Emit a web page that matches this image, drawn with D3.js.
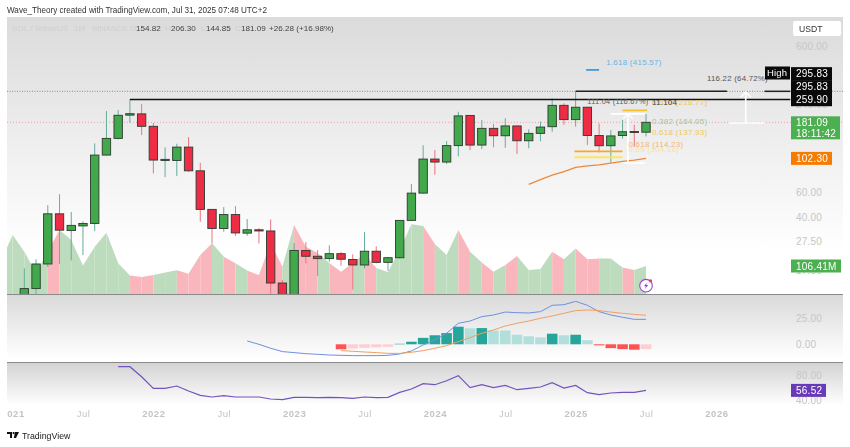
<!DOCTYPE html>
<html>
<head>
<meta charset="utf-8">
<script src="https://cdn.jsdelivr.net/npm/d3@7"></script>
<style>
html, body { margin: 0; background: #fff; }
svg { display: block; filter: blur(0.4px); }
text { font-family: "Liberation Sans", Arial, sans-serif; }
</style>
</head>
<body>
<svg id="chart" width="850" height="447"></svg>
<script>
// monthly candles, Jan 2021 to Jul 2025 (one row per year)
const opens = [
	1.5, 11.5, 13, 19.2, 42.5, 32.6, 35.1, 36.5, 107.8, 140.4, 203, 207,
	170, 99, 99, 122.3, 84, 45.6, 33.7, 42, 31.3, 33, 32.4, 14.2,
	11.4, 23.8, 21.7, 20.9, 22.6, 20.6, 18.9, 23.5, 19.7, 21.2, 38.3, 59,
	101.2, 96.5, 125.2, 202, 126.3, 164.6, 146.4, 171, 135.2, 152, 169, 237,
	189, 230, 147, 125, 147, 156.7, 154.82];
const highs = [
	3.9, 17.9, 20.7, 48.8, 58.1, 43.7, 37.7, 129.7, 216.5, 220, 259.9, 242,
	179, 121.8, 128.9, 143.4, 95.4, 45.8, 47.3, 48, 39.1, 33.9, 38.9, 14.9,
	26.7, 27.1, 23.9, 25.8, 23.3, 22.4, 31.8, 25.4, 21.5, 38.5, 68.1, 126,
	116.7, 134.5, 214, 203, 187.8, 176.3, 193, 171, 162, 183, 264, 245,
	295.83, 231, 178, 160, 188, 174, 206.3];
const lows = [
	1.2, 10.5, 11.95, 18.3, 19.2, 20.3, 22.1, 32.3, 106.9, 138, 180, 148,
	80.6, 76, 77.3, 82.7, 37.5, 26.6, 32, 30, 30, 26.6, 11, 9.8,
	9.5, 19.4, 15.9, 19.9, 18.7, 12.8, 17.9, 19.4, 17.2, 20.9, 37.9, 58.7,
	78.9, 93.5, 105.7, 116.7, 118.5, 122, 121, 109.5, 120, 134, 156, 174,
	169, 126.5, 112.6, 95.5, 140, 123, 144.85];
const closes = [
	3.6, 13, 19.2, 42.5, 32.8, 35.4, 36.5, 107.8, 140.4, 202.4, 207.5, 170,
	99.6, 100.7, 122.3, 84, 45.6, 33.7, 42, 31.4, 33, 32.4, 14.2, 11.4,
	23.8, 21.7, 20.9, 22.6, 20.7, 18.9, 23.5, 19.7, 21.2, 38.3, 59, 101.2,
	96.5, 125.2, 200.5, 126.3, 164.6, 146.4, 171, 135.2, 152, 168, 237, 189,
	230, 147, 125, 146, 156, 154.82, 181.09];
const volumes = [
	224, 161, 79, 161, 243, 205, 108, 180, 233, 117, 70, 65,
	72, 82, 90, 77, 148, 193, 142, 117, 89, 72, 194, 104,
	262, 180, 156, 118, 85, 118, 152, 99, 84, 167, 265, 258,
	190, 148, 243, 161, 120, 85, 110, 144, 91, 95, 161, 132,
	173, 132, 135, 135, 101, 91, 106.41];
const volumeDec2020 = 125;

// indicators, each with the month index of its first value
const maStart = 44;
const maValues = [67.8, 73, 78.5, 82.8, 88.6, 90.8, 92.3, 95, 97.6, 99.6, 102.3];
const macdStart = 20;
const macdLine = [
	3.2, 0, -3.8, -7,
	-8, -9, -9.6, -10.3, -10.6, -10.9, -10.9, -10.9, -10.6, -9.3, -6.4, -0.6,
	4.2, 10.6, 20.2, 22.4, 26.6, 28.2, 31, 30.4, 30.1, 31.4, 37.5, 38.1,
	41.3, 37.5, 31.4, 28.2, 26, 24, 24];
const signalStart = 28;
const signalLine = [
	-6.1, -6.7, -7.4, -8, -8.7, -8.7, -7.7, -6.1,
	-3.8, -1.3, 2.6, 6.4, 10.6, 13.8, 17.6, 20.2, 22.4, 25, 27.2, 29.8,
	32.4, 33, 32.4, 31, 29.8, 28.8, 27.9];
const histogram = [
	-4.8, -4, -3.4, -2.9, -2.4, 0.5, 2.5, 6.2,
	8.7, 10.8, 16.9, 15.4, 15.6, 13.3, 13.2, 9.2, 7.7, 6.7, 10.2, 8.7,
	9.2, 4, -1, -3.7, -4.6, -5.2, -4.6];
const rsiStart = 9;
const rsiValues = [
	94.4, 94.4, 78.4,
	59.7, 59.7, 63.5, 55.5, 48.5, 45.9, 48, 45.9, 45.9, 45.9, 42.7, 41.6,
	45.3, 45.3, 44.8, 45.3, 44.8, 43.7, 45.9, 44.8, 45.3, 53.3, 58.7, 67.2,
	65.6, 72, 80, 60.8, 65.6, 60.8, 64.5, 57.6, 59.7, 61.9, 68.8, 60.3,
	64.5, 52.8, 49.6, 52.3, 53.3, 53.3, 56.52];

// axis labels
const timeTicks = [0, 6, 12, 18, 24, 30, 36, 42, 48, 54, 60];
const timeLabels = ["2021", "Jul", "2022", "Jul", "2023", "Jul", "2024", "Jul", "2025", "Jul", "2026"];
const priceTicks = [600, 240, 60, 40, 27.5, 17.5];
const macdTicks = [25, 0];
const rsiTicks = [80, 40];

// drawn levels: [price, first month, last month, colour]
const fibLines = [
	[415.57, 48.9, 50, "#3d9be0"],
	[218.77, 52, 54.1, "#fbc02d"],
	[114.23, 47.9, 52, "#f9a825"],
	[104.16, 47.9, 52, "#ffe45c"]
];
// [text, month, price, colour, font size]
const fibLabels = [
	["1.618 (415.57)", 50.6, 471, "#6db3e6", 8],
	["0.618 (218.77)", 54.5, 251, "#eec65a", 8],
	["0.382 (164.05)", 54.5, 183, "#a3c6a3", 8],
	["0.618 (137.93)", 54.5, 154, "#f0c957", 8],
	["0.618 (114.23)", 52.5, 128, "#f2b678", 8],
	["0.65 (104.16)", 52.5, 117.5, "#f6e4a0", 8],
	["111.04 (116.67%)", 49, 251, "#5c5c5c", 7.4],
	["11.104", 54.5, 251, "#444", 8],
	["116.22 (64.72%)", 59.2, 365, "#555", 7.8]
];
const highPrice = 295.83;
const resistPrice = 259.9;
const lastPrice = 181.09;

const left = 7, right = 843, axisX = 791;
const mainTop = 17, mainBottom = 294, macdBottom = 362, rsiBottom = 405;

const x = d3.scaleLinear().domain([0, 60]).range([12.6, 716.4]);
const y = d3.scaleLog().domain([600, 27.5]).range([46.7, 241.3]);
const yVol = d3.scaleLinear().domain([0, 106.41]).range([294, 266]);
const yMacd = d3.scaleLinear().domain([0, 25]).range([344.3, 318.3]);
const yRsi = d3.scaleLinear().domain([40, 80]).range([400.7, 375.7]);

const svg = d3.select("#chart");
const defs = svg.append("defs");

// pane backgrounds
function addGradient(id, top, end) {
	const g = defs.append("linearGradient").attr("id", id).attr("x1", 0).attr("x2", 0).attr("y1", 0).attr("y2", 1);
	g.append("stop").attr("offset", 0).attr("stop-color", top);
	g.append("stop").attr("offset", end).attr("stop-color", "#fff");
}
addGradient("bgMain", "#dbdbdb", 0.85);
addGradient("bgMacd", "#d9d9d9", 0.95);
addGradient("bgRsi", "#d2d2d2", 1);
[["bgMain", mainTop, mainBottom], ["bgMacd", mainBottom, macdBottom], ["bgRsi", macdBottom, rsiBottom]].forEach(p => {
	svg.append("rect").attr("x", left).attr("y", p[1]).attr("width", right - left).attr("height", p[2] - p[1]).attr("fill", "url(#" + p[0] + ")");
});

defs.append("clipPath").attr("id", "clipMain").append("rect").attr("x", left).attr("y", mainTop).attr("width", right - left).attr("height", mainBottom - mainTop);
defs.append("clipPath").attr("id", "clipTime").append("rect").attr("x", left).attr("y", rsiBottom).attr("width", right - left).attr("height", 20);

const main = svg.append("g").attr("clip-path", "url(#clipMain)");

// dotted price lines
main.append("line").attr("x1", left).attr("x2", right).attr("y1", y(highPrice)).attr("y2", y(highPrice))
	.attr("stroke", "#888").attr("stroke-dasharray", "1 1.5");
main.append("line").attr("x1", left).attr("x2", right).attr("y1", y(lastPrice)).attr("y2", y(lastPrice))
	.attr("stroke", "#f0a0a8").attr("stroke-dasharray", "1 2");

// volume area, one strip per month coloured like its candle
const volPoints = [volumeDec2020].concat(volumes);
const volArea = d3.area().x(d => x(d.i)).y0(yVol(0)).y1(d => yVol(d.v));
volumes.forEach((v, i) => {
	main.append("path")
		.attr("d", volArea([{ i: i - 1, v: volPoints[i] }, { i: i, v: v }]))
		.attr("fill", closes[i] >= opens[i] ? "#bcdcbd" : "#f9b7bd");
});

// candles
opens.forEach((o, i) => {
	const up = closes[i] >= o;
	main.append("line").attr("x1", x(i)).attr("x2", x(i)).attr("y1", y(highs[i])).attr("y2", y(lows[i]))
		.attr("stroke", up ? "#62ad9c" : "#ec7482").attr("stroke-width", 1);
	main.append("rect").attr("x", x(i) - 4.2).attr("width", 8.4)
		.attr("y", y(Math.max(o, closes[i]))).attr("height", Math.max(1, Math.abs(y(o) - y(closes[i]))))
		.attr("fill", up ? "#41a84b" : "#ef2c45").attr("stroke", "#2d3a30").attr("stroke-width", 0.9);
});

// moving average
const indicatorLine = (start, scale) => d3.line().x((d, i) => x(start + i)).y(d => scale(d));
main.append("path").attr("d", indicatorLine(maStart, y)(maValues))
	.attr("fill", "none").attr("stroke", "#f0883a").attr("stroke-width", 1.3);

// resistance lines
main.append("line").attr("x1", x(10)).attr("x2", x(66.3)).attr("y1", y(resistPrice)).attr("y2", y(resistPrice))
	.attr("stroke", "#111").attr("stroke-width", 1.5);
main.append("line").attr("x1", x(48)).attr("x2", x(60.9)).attr("y1", y(highPrice)).attr("y2", y(highPrice))
	.attr("stroke", "#222").attr("stroke-width", 1.5);
main.append("line").attr("x1", x(64.1)).attr("x2", x(66.3)).attr("y1", y(highPrice)).attr("y2", y(highPrice))
	.attr("stroke", "#222").attr("stroke-width", 1.5);

// fibonacci levels
fibLines.forEach(f => {
	main.append("line").attr("x1", x(f[1])).attr("x2", x(f[2])).attr("y1", y(f[0])).attr("y2", y(f[0]))
		.attr("stroke", f[3]).attr("stroke-width", 1.8);
});

// white measuring arrows
function arrow(month, from, to, startMonth, endMonth) {
	main.append("line").attr("x1", x(month)).attr("x2", x(month)).attr("y1", y(from)).attr("y2", y(to))
		.attr("stroke", "#fff").attr("stroke-width", 1.6);
	main.append("path").attr("d", d3.line()([[x(month) - 5, y(to) + 5], [x(month), y(to)], [x(month) + 5, y(to) + 5]]))
		.attr("fill", "none").attr("stroke", "#fff").attr("stroke-width", 1.4);
	main.append("line").attr("x1", x(startMonth)).attr("x2", x(endMonth)).attr("y1", y(from)).attr("y2", y(from))
		.attr("stroke", "#fff").attr("stroke-width", 1.6);
}
arrow(62.5, lastPrice * 0.99, highPrice * 0.99, 61.1, 64.1);
arrow(52.46, 95, 207, 52.1, 53.9);
main.append("line").attr("x1", x(51)).attr("x2", x(53.9)).attr("y1", y(207)).attr("y2", y(207))
	.attr("stroke", "#fff").attr("stroke-width", 1.6);

// fibonacci and measure labels
fibLabels.forEach(l => {
	main.append("text").attr("x", x(l[1])).attr("y", y(l[2])).attr("dy", "0.35em")
		.attr("font-size", l[4]).attr("fill", l[3]).attr("letter-spacing", 0.25).text(l[0]);
});

// macd pane
const macdPane = svg.append("g");
histogram.forEach((h, i) => {
	const prev = i > 0 ? histogram[i - 1] : 0;
	const colour = h >= 0 ? (h > prev ? "#26a69a" : "#b2dfdb") : (h < prev ? "#ff5252" : "#ffcdd2");
	macdPane.append("rect").attr("x", x(signalStart + i) - 5.3).attr("width", 10.6)
		.attr("y", Math.min(yMacd(h), yMacd(0))).attr("height", Math.abs(yMacd(h) - yMacd(0)))
		.attr("fill", colour);
});
macdPane.append("path").attr("d", indicatorLine(macdStart, yMacd)(macdLine))
	.attr("fill", "none").attr("stroke", "#6f8fe0").attr("stroke-width", 1);
macdPane.append("path").attr("d", indicatorLine(signalStart, yMacd)(signalLine))
	.attr("fill", "none").attr("stroke", "#f0a066").attr("stroke-width", 1);

// rsi pane
svg.append("path").attr("d", indicatorLine(rsiStart, yRsi)(rsiValues))
	.attr("fill", "none").attr("stroke", "#7353bd").attr("stroke-width", 1.2);

// pane separators
[mainBottom, macdBottom].forEach(s => {
	svg.append("line").attr("x1", left).attr("x2", right).attr("y1", s + 0.5).attr("y2", s + 0.5).attr("stroke", "#8a8a8a");
});

// price axes
function priceAxis(scale, ticks) {
	const g = svg.append("g").attr("transform", "translate(" + (axisX + 5) + ",0)")
		.call(d3.axisRight(scale).tickValues(ticks).tickSize(0).tickPadding(0).tickFormat(d3.format(".2f")));
	g.select(".domain").remove();
	g.selectAll("text").attr("font-size", 10).attr("font-family", "Liberation Sans").attr("fill", "#c6c6c6").attr("letter-spacing", 0.2);
}
priceAxis(y, priceTicks);
priceAxis(yMacd, macdTicks);
priceAxis(yRsi, rsiTicks);

// time axis
const timeAxis = svg.append("g").attr("clip-path", "url(#clipTime)").append("g").attr("transform", "translate(0,410)")
	.call(d3.axisBottom(x).tickValues(timeTicks).tickSize(0).tickPadding(0).tickFormat((d, i) => timeLabels[i]));
timeAxis.select(".domain").remove();
timeAxis.selectAll("text").attr("font-size", 9.5).attr("font-family", "Liberation Sans").attr("fill", "#c4c4c4")
	.attr("font-weight", (d, i) => timeLabels[i] === "Jul" ? "normal" : "bold").attr("letter-spacing", 0.5);

// price tags
function tag(cy, h, tx, w, colour, lines) {
	svg.append("rect").attr("x", tx).attr("y", cy - h / 2).attr("width", w).attr("height", h).attr("fill", colour);
	lines.forEach((t, i) => {
		svg.append("text").attr("x", tx + 5).attr("y", cy + (i - (lines.length - 1) / 2) * 11.5).attr("dy", "0.35em")
			.attr("font-size", 10).attr("fill", "#fff").attr("letter-spacing", 0.25).text(t);
	});
}
tag(y(highPrice) - 17.5, 13.4, axisX, 41, "#0a0a0a", ["295.83"]);
tag(y(highPrice) - 4.5, 13.4, axisX, 41, "#0a0a0a", ["295.83"]);
tag(y(resistPrice), 13.4, axisX, 41, "#0a0a0a", ["259.90"]);
tag(y(lastPrice) + 5.5, 23, axisX, 49, "#4caf50", ["181.09", "18:11:42"]);
tag(y(maValues[maValues.length - 1]), 13, axisX, 41, "#f57c00", ["102.30"]);
tag(yVol(106.41), 13, axisX, 50, "#4caf50", ["106.41M"]);
tag(yRsi(56.52), 13, axisX, 35, "#673ab7", ["56.52"]);

// High label
svg.append("rect").attr("x", 765).attr("y", 66.5).attr("width", 25).attr("height", 13).attr("fill", "#0a0a0a");
svg.append("text").attr("x", 767).attr("y", 73).attr("dy", "0.35em").attr("font-size", 9.5).attr("fill", "#fff").attr("letter-spacing", 0.2).text("High");

// currency box
svg.append("rect").attr("x", 793).attr("y", 21).attr("width", 48).attr("height", 15).attr("rx", 2).attr("fill", "#fff");
svg.append("text").attr("x", 799).attr("y", 28.5).attr("dy", "0.35em").attr("font-size", 8.6).attr("fill", "#333").text("USDT");

// header and legend
svg.append("text").attr("x", 7).attr("y", 10).attr("dy", "0.35em").attr("font-size", 8.15).attr("fill", "#333")
	.text("Wave_Theory created with TradingView.com, Jul 31, 2025 07:48 UTC+2");

const legend = [
	[12, "SOL / TetherUS", "#cfcfcf"], [74, "1M", "#cfcfcf"], [92, "BINANCE", "#cfcfcf"],
	[130, "O", "#cfcfcf"], [136, "154.82", "#444"], [165, "H", "#cfcfcf"], [171, "206.30", "#444"],
	[201, "L", "#cfcfcf"], [206, "144.85", "#444"], [235, "C", "#cfcfcf"], [241, "181.09", "#444"],
	[269, "+26.28 (+16.98%)", "#444"]
];
legend.forEach(l => {
	svg.append("text").attr("x", l[0]).attr("y", 28).attr("dy", "0.35em").attr("font-size", 8.1).attr("fill", l[2]).text(l[1]);
});

// alert icon on the volume pane
const icon = svg.append("g").attr("transform", "translate(" + x(54) + ",285.7)");
icon.append("circle").attr("r", 6.3).attr("fill", "#fff").attr("stroke", "#9c45c9").attr("stroke-width", 1.1);
icon.append("path").attr("d", "M1.2-3.5L-2 .5H0L-1.2 3.5L2-.7H0Z").attr("fill", "#7b3fb8");
icon.append("circle").attr("cx", 4.5).attr("cy", -5).attr("r", 1.5).attr("fill", "#f23645");

// TradingView footer
const logo = svg.append("g").attr("transform", "translate(7,432)").attr("fill", "#111");
logo.append("path").attr("d", "M0 0H5V6H3V2H0Z");
logo.append("circle").attr("cx", 6.6).attr("cy", 1.1).attr("r", 1.1);
logo.append("path").attr("d", "M8 0H12L9 6H6.8Z");
svg.append("text").attr("x", 22).attr("y", 436).attr("dy", "0.35em").attr("font-size", 8.8).attr("fill", "#222").text("TradingView");
</script>
</body>
</html>
